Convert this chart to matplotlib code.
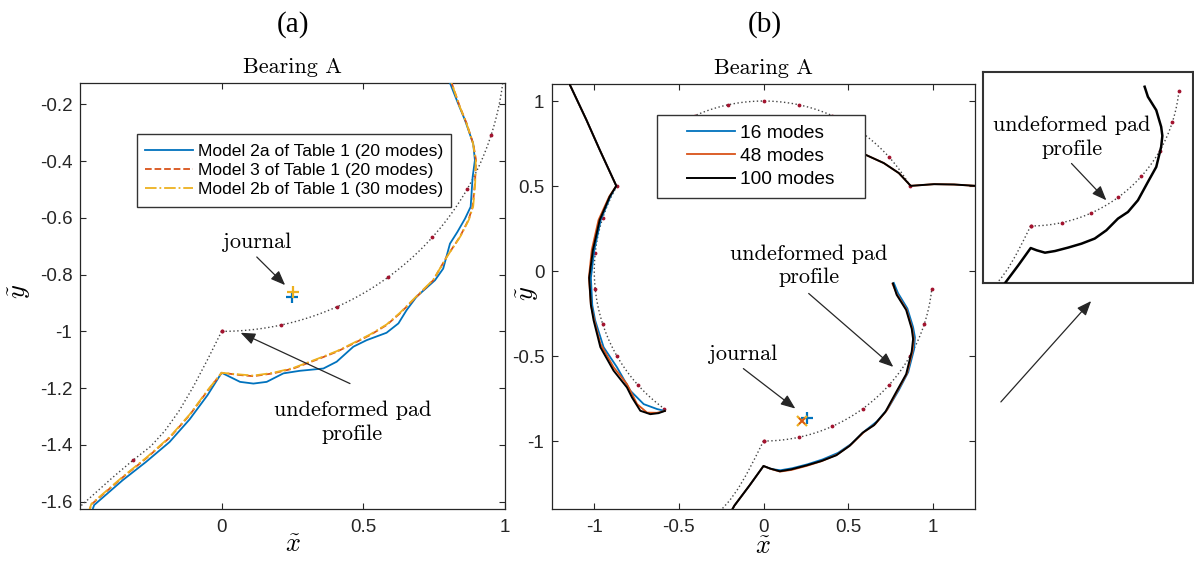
import numpy as np
import matplotlib
matplotlib.use('Agg')
import matplotlib.pyplot as plt
from matplotlib.patches import Rectangle, FancyArrowPatch

plt.rcParams['mathtext.fontset'] = 'cm'
plt.rcParams['axes.unicode_minus'] = False
plt.rcParams['font.family'] = 'Liberation Sans'

# colores por defecto de matlab
azul = '#0072BD'
naranja = '#D95319'
amarillo = '#EDB120'
gris = '#262626'
rojo = '#A2142F'

# ---------------- perfil sin deformar: zapatas de radio 1 ----------------
pad_start_deg = [30, 150, 270]   # inicio de cada zapata
pad_span_deg = 84
dot_step_deg = 12

# borde de entrada de la zapata inferior (linea punteada hacia abajo)
lead_x = [0.0, -0.05, -0.10, -0.15, -0.20, -0.25, -0.314, -0.385, -0.48, -0.52]
lead_y = [-1.0, -1.10, -1.195, -1.28, -1.35, -1.405, -1.455, -1.515, -1.60, -1.635]

# ---------------- (a) zapata inferior, tres modelos ----------------
a_m2a_x = [-0.46, -0.45, -0.35, -0.267, -0.184, -0.113, -0.05, 0.0, 0.065, 0.112, 0.159,
           0.218, 0.276, 0.359, 0.406, 0.465, 0.512, 0.582, 0.624, 0.653, 0.688, 0.753,
           0.782, 0.806, 0.832, 0.859, 0.879, 0.886, 0.894, 0.888, 0.859, 0.835, 0.806, 0.80]
a_m2a_y = [-1.64, -1.612, -1.525, -1.46, -1.39, -1.31, -1.225, -1.146, -1.178, -1.184, -1.178,
           -1.148, -1.139, -1.131, -1.107, -1.054, -1.031, -1.005, -0.972, -0.925, -0.878, -0.820,
           -0.779, -0.691, -0.650, -0.603, -0.561, -0.456, -0.397, -0.339, -0.256, -0.198, -0.125, -0.11]

a_m3_x = [-0.47, -0.46, -0.35, -0.267, -0.184, -0.113, -0.05, 0.0, 0.065, 0.112, 0.182, 0.253,
          0.335, 0.406, 0.465, 0.524, 0.582, 0.629, 0.688, 0.747, 0.794, 0.841, 0.871,
          0.886, 0.894, 0.898, 0.888, 0.865, 0.841, 0.812, 0.806]
a_m3_y = [-1.64, -1.61, -1.515, -1.448, -1.375, -1.295, -1.21, -1.146, -1.154, -1.158, -1.148, -1.131,
          -1.100, -1.072, -1.043, -1.013, -0.978, -0.937, -0.878, -0.820, -0.738, -0.667, -0.608,
          -0.561, -0.479, -0.397, -0.339, -0.268, -0.209, -0.125, -0.11]

a_m2b_x = [-0.47, -0.46, -0.35, -0.267, -0.184, -0.113, -0.05, 0.0, 0.065, 0.112, 0.182, 0.253,
           0.335, 0.406, 0.465, 0.524, 0.582, 0.629, 0.688, 0.747, 0.796, 0.843, 0.873,
           0.888, 0.895, 0.897, 0.887, 0.864, 0.840, 0.811, 0.805]
a_m2b_y = [-1.64, -1.608, -1.513, -1.446, -1.373, -1.293, -1.208, -1.146, -1.152, -1.156, -1.146, -1.129,
           -1.098, -1.070, -1.041, -1.011, -0.976, -0.935, -0.876, -0.818, -0.736, -0.665, -0.606,
           -0.559, -0.477, -0.395, -0.337, -0.266, -0.207, -0.123, -0.11]

a_journal = {'Model 2a': (0.250, -0.878), 'Model 3': (0.252, -0.862)}

# ---------------- (b) cojinete completo, 16 / 48 / 100 modos ----------------
b_left_16_x = [-1.17, -1.047, -0.968, -0.87, -0.905, -0.962, -1.0, -1.02, -1.012, -0.995,
               -0.945, -0.866, -0.787, -0.708, -0.629, -0.583]
b_left_16_y = [1.15, 0.89, 0.713, 0.501, 0.438, 0.30, 0.124, -0.04, -0.20, -0.29,
               -0.448, -0.566, -0.704, -0.783, -0.812, -0.823]
b_left_48_x = [-1.17, -1.047, -0.968, -0.87, -0.912, -0.975, -1.015, -1.032, -1.02, -1.0,
               -0.964, -0.886, -0.807, -0.747, -0.688, -0.630, -0.583]
b_left_48_y = [1.15, 0.89, 0.713, 0.501, 0.438, 0.30, 0.124, -0.04, -0.20, -0.29,
               -0.428, -0.566, -0.665, -0.783, -0.833, -0.834, -0.823]
b_left_100_x = [-1.17, -1.047, -0.968, -0.87, -0.909, -0.968, -1.008, -1.03, -1.02, -1.004,
                -0.964, -0.886, -0.807, -0.777, -0.728, -0.669, -0.620, -0.583]
b_left_100_y = [1.15, 0.89, 0.713, 0.501, 0.438, 0.30, 0.124, -0.04, -0.20, -0.29,
                -0.448, -0.586, -0.685, -0.744, -0.822, -0.842, -0.836, -0.823]

b_bot_16_x = [-0.2, -0.172, -0.083, 0.0, 0.045, 0.10, 0.17, 0.26, 0.35, 0.44, 0.52, 0.60,
              0.67, 0.735, 0.80, 0.855, 0.89, 0.895, 0.884, 0.85, 0.795, 0.77]
b_bot_16_y = [-1.43, -1.38, -1.262, -1.147, -1.165, -1.172, -1.16, -1.137, -1.108, -1.07,
              -1.016, -0.94, -0.885, -0.81, -0.70, -0.595, -0.46, -0.39, -0.33, -0.22, -0.13, -0.07]
b_bot_48_x = [-0.2, -0.172, -0.083, 0.0, 0.042, 0.098, 0.166, 0.256, 0.345, 0.435, 0.514,
              0.593, 0.661, 0.727, 0.793, 0.848, 0.881, 0.888, 0.878, 0.845, 0.789, 0.762]
b_bot_48_y = [-1.43, -1.38, -1.262, -1.147, -1.164, -1.180, -1.170, -1.146, -1.118, -1.080,
              -1.024, -0.948, -0.900, -0.822, -0.703, -0.603, -0.470, -0.398, -0.337, -0.226,
              -0.137, -0.075]
b_bot_100_x = [-0.2, -0.172, -0.083, 0.0, 0.040, 0.096, 0.163, 0.252, 0.341, 0.430, 0.508,
               0.586, 0.653, 0.720, 0.787, 0.843, 0.876, 0.884, 0.876, 0.843, 0.787, 0.765]
b_bot_100_y = [-1.43, -1.38, -1.262, -1.147, -1.162, -1.178, -1.167, -1.144, -1.118, -1.084,
               -1.029, -0.951, -0.907, -0.829, -0.707, -0.607, -0.473, -0.40, -0.34, -0.229,
               -0.14, -0.073]

b_top_x = [0.45, 0.603, 0.711, 0.800, 0.870, 1.008, 1.126, 1.27]
b_top_y = [0.76, 0.684, 0.635, 0.576, 0.501, 0.511, 0.509, 0.50]

b_journal_16 = (0.255, -0.865)
b_journal_48 = (0.228, -0.880)

# ejes
a_xticks = [0, 0.5, 1]
a_yticks = [-1.6, -1.4, -1.2, -1, -0.8, -0.6, -0.4, -0.2]
b_ticks = [-1, -0.5, 0, 0.5, 1]


def etiquetas(vals):
    return ['%g' % v for v in vals]


def perfil_sin_deformar(ax):
    for s in pad_start_deg:
        th = np.deg2rad(np.arange(s, s + pad_span_deg + 1, 1))
        ax.plot(np.cos(th), np.sin(th), linestyle=(0, (1, 1.8)), lw=1.0, color='#444444',
                marker='.', markersize=3.5, markerfacecolor=rojo, markeredgecolor=rojo,
                markevery=dot_step_deg, zorder=2)
    ax.plot(lead_x, lead_y, linestyle=(0, (1, 1.8)), lw=1.0, color='#444444',
            marker='.', markersize=3.5, markerfacecolor=rojo, markeredgecolor=rojo,
            markevery=[0, 6], zorder=2)


def estilo(ax, xt=None, yt=None):
    for sp in ax.spines.values():
        sp.set_color(gris)
        sp.set_linewidth(0.9)
    if xt is None:
        ax.set_xticks([])
        ax.set_yticks([])
        return
    ax.set_xticks(xt)
    ax.set_xticklabels(etiquetas(xt))
    ax.set_yticks(yt)
    ax.set_yticklabels(etiquetas(yt))
    ax.tick_params(direction='in', length=4.5, width=0.8, color=gris, top=True, right=True,
                   labelsize=13.5, labelcolor=gris)
    ax.tick_params(axis='x', pad=7.5)
    ax.tick_params(axis='y', pad=5.5)


def flecha(ax, txt_xy, head_xy):
    ax.annotate('', xy=head_xy, xytext=txt_xy,
                arrowprops=dict(arrowstyle='-|>,head_length=0.55,head_width=0.22',
                                color=gris, lw=0.9, mutation_scale=16, shrinkA=0, shrinkB=0))


def caja_leyenda(ax, x0, y0, x1, y1):
    ax.add_patch(Rectangle((x0, y0), x1 - x0, y1 - y0, transform=ax.transAxes,
                           facecolor='white', edgecolor='#333333', lw=1.0, zorder=4.5))


serif_cm = 'cmr10'

fig = plt.figure(figsize=(11.94, 5.64), dpi=100)
ax_a = fig.add_axes([0.0670, 0.0975, 0.3559, 0.7553])
ax_b = fig.add_axes([0.4623, 0.0975, 0.3543, 0.7535])
ax_c = fig.add_axes([0.8233, 0.4982, 0.1759, 0.3741])

# ------------------------------ (a) ------------------------------
perfil_sin_deformar(ax_a)
ax_a.plot(a_m2a_x, a_m2a_y, '-', color=azul, lw=1.3, zorder=3,
          label='Model 2a of Table 1 (20 modes)')
ax_a.plot(a_m3_x, a_m3_y, '--', color=naranja, lw=1.3, zorder=3,
          label='Model 3 of Table 1 (20 modes)')
ax_a.plot(a_m2b_x, a_m2b_y, '-.', color=amarillo, lw=1.3, zorder=3,
          label='Model 2b of Table 1 (30 modes)')
ax_a.plot(*a_journal['Model 2a'], '+', color=azul, markersize=9, mew=1.6, zorder=3)
ax_a.plot(*a_journal['Model 3'], '+', color=amarillo, markersize=9, mew=1.6, zorder=3)
ax_a.set_xlim(-0.5, 1.0)
ax_a.set_ylim(-1.626, -0.125)
estilo(ax_a, a_xticks, a_yticks)
ax_a.set_title('Bearing A', fontfamily=serif_cm, fontsize=16, pad=7)

caja_leyenda(ax_a, 0.134, 0.709, 0.873, 0.880)
ax_a.legend(loc='center', bbox_to_anchor=(0.5035, 0.7945), frameon=False, fontsize=12.6,
            handlelength=2.75, handletextpad=0.25, labelspacing=0.2, borderpad=0.2)

ax_a.text(0.124, -0.685, 'journal', fontfamily=serif_cm, fontsize=16, ha='center', va='center')
flecha(ax_a, (0.124, -0.738), (0.224, -0.837))
ax_a.text(0.462, -1.32, 'undeformed pad\nprofile', fontfamily=serif_cm, fontsize=16,
          ha='center', va='center', multialignment='center', linespacing=1.25)
flecha(ax_a, (0.453, -1.184), (0.067, -1.005))

# ------------------------------ (b) ------------------------------
perfil_sin_deformar(ax_b)
ax_b.plot(b_left_16_x, b_left_16_y, '-', color=azul, lw=1.3, zorder=3, label='16 modes')
ax_b.plot(b_left_48_x, b_left_48_y, '-', color=naranja, lw=1.3, zorder=3, label='48 modes')
ax_b.plot(b_left_100_x, b_left_100_y, '-', color='black', lw=1.4, zorder=3, label='100 modes')
ax_b.plot(b_bot_16_x, b_bot_16_y, '-', color=azul, lw=1.3, zorder=3)
ax_b.plot(b_bot_48_x, b_bot_48_y, '-', color=naranja, lw=1.3, zorder=3)
ax_b.plot(b_bot_100_x, b_bot_100_y, '-', color='black', lw=1.4, zorder=3)
ax_b.plot(b_top_x, b_top_y, '-', color=naranja, lw=1.3, zorder=3)
ax_b.plot(b_top_x, b_top_y, '-', color='black', lw=1.4, zorder=3)
ax_b.plot(*b_journal_16, '+', color=azul, markersize=9, mew=1.6, zorder=3)
ax_b.plot(*b_journal_48, 'x', color=amarillo, markersize=7, mew=1.6, zorder=3)
ax_b.plot(*b_journal_48, 'x', color=naranja, markersize=4, mew=1.2, zorder=3)
ax_b.set_xlim(-1.25, 1.25)
ax_b.set_ylim(-1.4, 1.1)
estilo(ax_b, b_ticks, b_ticks)
ax_b.set_title('Bearing A', fontfamily=serif_cm, fontsize=16, pad=7)

caja_leyenda(ax_b, 0.248, 0.732, 0.740, 0.927)
ax_b.legend(loc='center', bbox_to_anchor=(0.494, 0.8295), frameon=False, fontsize=13.8,
            handlelength=2.5, handletextpad=0.25, labelspacing=0.3, borderpad=0.2)

ax_b.text(-0.119, -0.489, 'journal', fontfamily=serif_cm, fontsize=16, ha='center', va='center')
flecha(ax_b, (-0.119, -0.574), (0.188, -0.809))
ax_b.text(0.267, 0.032, 'undeformed pad\nprofile', fontfamily=serif_cm, fontsize=16,
          ha='center', va='center', multialignment='center', linespacing=1.25)
flecha(ax_b, (0.267, -0.132), (0.767, -0.564))

# ------------------------- detalle (100 modos) -------------------------
perfil_sin_deformar(ax_c)
ax_c.plot(b_bot_100_x, b_bot_100_y, '-', color='black', lw=1.8, zorder=3)
ax_c.set_xlim(-0.32, 1.09)
ax_c.set_ylim(-1.38, 0.025)
estilo(ax_c)
for sp in ax_c.spines.values():
    sp.set_linewidth(1.5)
    sp.set_color('#333333')
ax_c.text(0.276, -0.41, 'undeformed pad\nprofile', fontfamily=serif_cm, fontsize=16,
          ha='center', va='center', multialignment='center', linespacing=1.25)
flecha(ax_c, (0.274, -0.584), (0.508, -0.829))

# flecha hacia el detalle
fig.add_artist(FancyArrowPatch((0.8367, 0.2837), (0.9154, 0.4699), transform=fig.transFigure,
                               arrowstyle='-|>,head_length=0.55,head_width=0.22',
                               color=gris, lw=0.9, mutation_scale=16))

# etiquetas de ejes y letras de panel
fig.text(293 / 1194, 1 - 545 / 564, r'$\tilde{x}$', fontsize=19, ha='center', va='center')
fig.text(763 / 1194, 1 - 547 / 564, r'$\tilde{x}$', fontsize=19, ha='center', va='center')
fig.text(20 / 1194, 1 - 291 / 564, r'$\tilde{y}$', fontsize=19, ha='center', va='center',
         rotation=90)
fig.text(528 / 1194, 1 - 293 / 564, r'$\tilde{y}$', fontsize=19, ha='center', va='center',
         rotation=90)
fig.text(293 / 1194, 1 - 25 / 564, '(a)', fontfamily='Liberation Serif', fontsize=21,
         ha='center', va='center')
fig.text(765 / 1194, 1 - 25 / 564, '(b)', fontfamily='Liberation Serif', fontsize=21,
         ha='center', va='center')

fig.savefig('out.png', dpi=100)
